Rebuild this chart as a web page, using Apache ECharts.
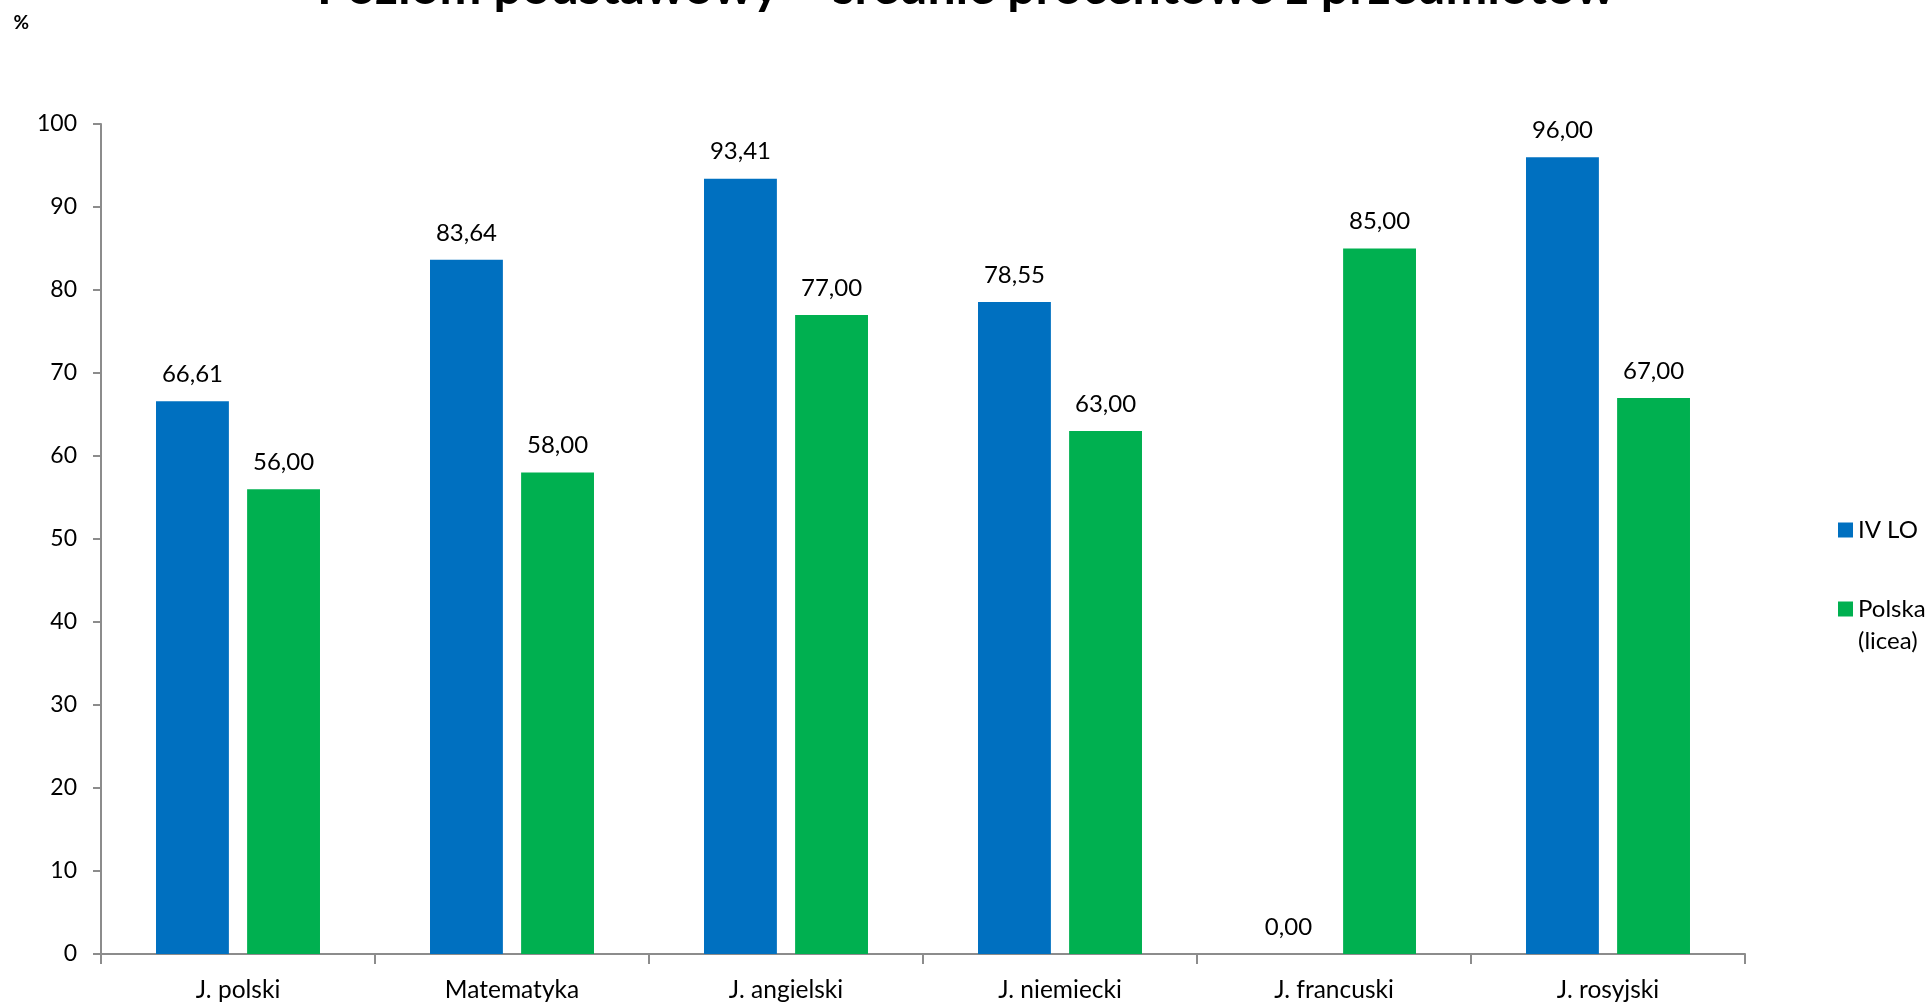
<!DOCTYPE html>
<html>
<head>
<meta charset="utf-8">
<script src="https://cdn.jsdelivr.net/npm/echarts@6/dist/echarts.min.js"></script>
<style>html,body{margin:0;padding:0;background:#fff}#c{width:1932px;height:1005px}</style>
</head>
<body>
<div id="c"></div>
<script>
const titleText = 'Poziom podstawowy – średnie procentowe z przedmiotów';
const categories = ['J. polski', 'Matematyka', 'J. angielski', 'J. niemiecki', 'J. francuski', 'J. rosyjski'];
const seriesNames = ['IV LO', 'Polska (licea)'];
const ivLO = [66.61, 83.64, 93.41, 78.55, 0.00, 96.00];
const polska = [56.00, 58.00, 77.00, 63.00, 85.00, 67.00];

const FONT = 'Lato';
const fmt = p => p.value.toFixed(2).replace('.', ',');
const labelCfg = {show: true, position: 'top', distance: 15, formatter: fmt, color: '#000', fontFamily: FONT, fontSize: 24};

const chart = echarts.init(document.getElementById('c'));
chart.setOption({
  backgroundColor: '#fff',
  animation: false,
  title: {
    text: titleText, left: 'center', top: -42,
    textStyle: {fontFamily: FONT, fontWeight: 'bold', fontSize: 50, color: '#000'}
  },
  legend: [
    {
      data: [seriesNames[0]], orient: 'vertical', left: 1833, top: 509, padding: 5,
      icon: 'rect', itemWidth: 15, itemHeight: 15,
      textStyle: {fontFamily: FONT, fontSize: 24, color: '#000', lineHeight: 32}
    },
    {
      data: [seriesNames[1]], orient: 'vertical', left: 1833, top: 556, padding: 5,
      icon: 'rect', itemWidth: 15, itemHeight: 15,
      formatter: () => '\nPolska\n(licea)',
      textStyle: {fontFamily: FONT, fontSize: 24, color: '#000', lineHeight: 32}
    }
  ],
  grid: {left: 101, right: 187, top: 124, bottom: 51, containLabel: false},
  xAxis: {
    type: 'category', data: categories,
    axisLine: {lineStyle: {color: '#8c8c8c', width: 2}},
    axisTick: {show: true, length: 10, lineStyle: {color: '#8c8c8c', width: 2}},
    axisLabel: {margin: 24, color: '#000', fontFamily: FONT, fontSize: 24.5}
  },
  yAxis: {
    type: 'value', min: 0, max: 100, interval: 10,
    name: '%', nameLocation: 'end', nameGap: 92,
    nameTextStyle: {fontFamily: FONT, fontWeight: 'bold', fontSize: 19, color: '#000', align: 'right', padding: [0, 72, 0, 0]},
    splitLine: {show: false},
    axisLine: {show: true, lineStyle: {color: '#8c8c8c', width: 2}},
    axisTick: {show: true, length: 8, lineStyle: {color: '#8c8c8c', width: 2}},
    axisLabel: {margin: 24, color: '#000', fontFamily: FONT, fontSize: 23}
  },
  series: [
    {name: seriesNames[0], type: 'bar', data: ivLO, barWidth: '26.6%', barGap: '25%',
     itemStyle: {color: '#0070C0'}, label: labelCfg},
    {name: seriesNames[1], type: 'bar', data: polska, barWidth: '26.6%', barGap: '25%',
     itemStyle: {color: '#00B050'}, label: labelCfg}
  ]
});
</script>
</body>
</html>
